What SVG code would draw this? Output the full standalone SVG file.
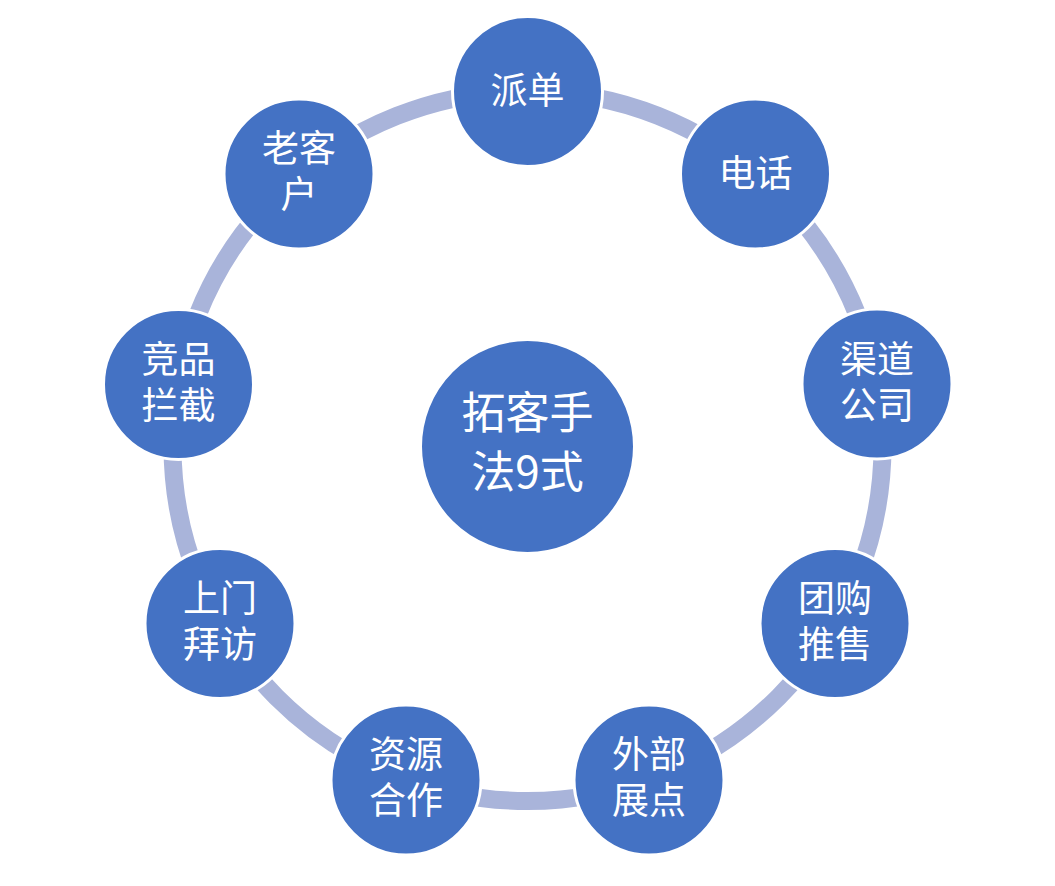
<svg xmlns="http://www.w3.org/2000/svg" width="1055" height="886" viewBox="0 0 1055 886">
<style>
.node{fill:#4472C4;stroke:#FFFFFF;stroke-width:3}
.t{fill:#FFFFFF;font-family:"Noto Sans CJK SC","Liberation Sans",sans-serif;font-size:37px;text-anchor:middle}
.tc{font-size:44px}
</style>
<rect width="1055" height="886" fill="#FFFFFF"/>
<g id="connectors">
<circle cx="527.5" cy="446" r="355" fill="none" stroke="#A9B4DA" stroke-width="18"/>
</g>
<g id="center">
<circle class="node" cx="527.5" cy="446.5" r="107"/>
<text class="t tc" x="527.5" y="429">拓客手</text>
<text class="t tc" x="527.5" y="488">法9式</text>
</g>
<g id="n1">
<circle class="node" cx="527.5" cy="91.5" r="75"/>
<text class="t" x="527.5" y="104">派单</text>
</g>
<g id="n2">
<circle class="node" cx="755.5" cy="174" r="75"/>
<text class="t" x="755.5" y="187">电话</text>
</g>
<g id="n3">
<circle class="node" cx="877" cy="384" r="75"/>
<text class="t" x="877" y="373">渠道</text>
<text class="t" x="877" y="419">公司</text>
</g>
<g id="n4">
<circle class="node" cx="835" cy="623.5" r="75"/>
<text class="t" x="835" y="612">团购</text>
<text class="t" x="835" y="658">推售</text>
</g>
<g id="n5">
<circle class="node" cx="649" cy="780" r="75"/>
<text class="t" x="649" y="768">外部</text>
<text class="t" x="649" y="814">展点</text>
</g>
<g id="n6">
<circle class="node" cx="406" cy="780" r="75"/>
<text class="t" x="406" y="768">资源</text>
<text class="t" x="406" y="814">合作</text>
</g>
<g id="n7">
<circle class="node" cx="220" cy="623.5" r="75"/>
<text class="t" x="220" y="612">上门</text>
<text class="t" x="220" y="658">拜访</text>
</g>
<g id="n8">
<circle class="node" cx="178.5" cy="384.5" r="75"/>
<text class="t" x="178.5" y="373">竞品</text>
<text class="t" x="178.5" y="419">拦截</text>
</g>
<g id="n9">
<circle class="node" cx="299" cy="174" r="75"/>
<text class="t" x="299" y="162">老客</text>
<text class="t" x="299" y="208">户</text>
</g>
</svg>
